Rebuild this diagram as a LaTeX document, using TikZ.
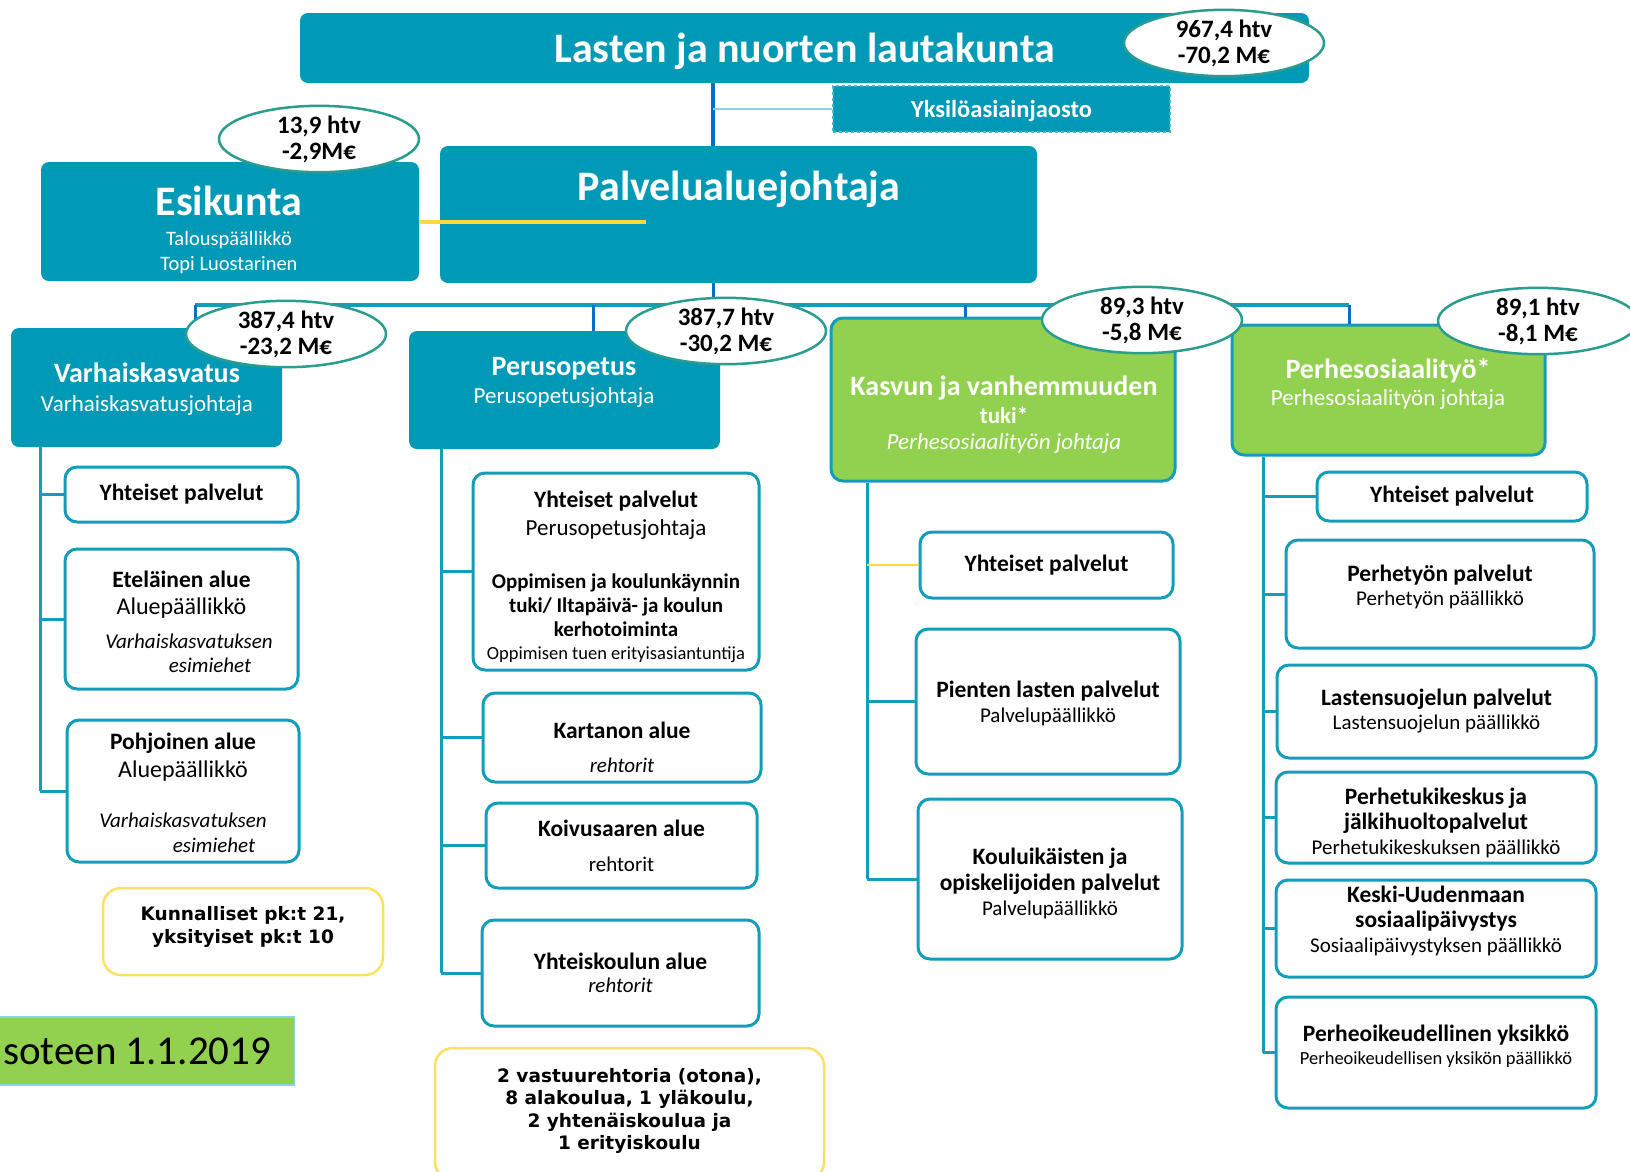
\documentclass[tikz,border=0pt]{standalone}
\usepackage{fontspec}
\setmainfont{Carlito}
\newfontfamily\notefont{DejaVu Sans}
\usepackage{tikz}
\usetikzlibrary{positioning, shapes.geometric, calc}

\definecolor{orgteal}{HTML}{0099B6}
\definecolor{orggreen}{HTML}{92D050}
\definecolor{linkteal}{HTML}{139DBB}
\definecolor{linkblue}{HTML}{0A6FC2}
\definecolor{ovalline}{HTML}{2A9D8F}
\definecolor{noteyellow}{HTML}{FFE066}
\definecolor{lineyellow}{HTML}{FFD93D}
\definecolor{paleblue}{HTML}{8AD3E3}

\def\fsz#1#2{\fontsize{#1}{#2}\selectfont}
% struts to nudge text inside a box: \up{depth}, \down{height}
\def\up#1{\rule[-#1pt]{0pt}{#1pt}}
\def\down#1{\rule{0pt}{#1pt}}

\begin{document}
\begin{tikzpicture}[x=1pt, y=-1pt,
    tealbox/.style={fill=orgteal, rounded corners=8pt, inner sep=0pt},
    greenbox/.style={fill=orggreen, draw=linkteal, line width=3pt, rounded corners=12pt, inner sep=0pt},
    subbox/.style={draw=linkteal, line width=3pt, fill=white, rounded corners=12pt, align=center, inner sep=0pt, font=\fsz{21}{24}},
    notebox/.style={draw=noteyellow, line width=2.5pt, fill=white, rounded corners=18pt, align=center, inner sep=0pt, font=\notefont\bfseries\fsz{18.5}{23}},
    costoval/.style={ellipse, draw=ovalline, line width=2.5pt, fill=white, minimum width=200pt, minimum height=66pt, inner sep=0pt, align=center, font=\bfseries\fsz{25}{26}},
    headtxt/.style={text=white, align=center, inner sep=0pt},
    spine/.style={draw=linkteal, line width=3pt},
    drop/.style={draw=linkblue, line width=3pt},
    yelline/.style={draw=lineyellow, line width=3pt}]

    \useasboundingbox (0,0) rectangle (1630,1171);
    \clip (0,0) rectangle (1630,1171);
    \fill[white] (0,0) rectangle (1630,1171);

    % board and division
    \node[tealbox, minimum width=1009pt, minimum height=70pt, text depth=0pt, text=white, font=\bfseries\fsz{42}{48}] (ltk) at (804.5,48) {Lasten ja nuorten lautakunta};
    \node[fill=orgteal, draw=paleblue!50!orgteal, line width=1.5pt, dashed, minimum width=337pt, minimum height=46pt, inner sep=0pt, text depth=0pt, text=white, font=\bfseries\fsz{24.5}{28}] (yks) at (1001.5,109) {Yksilöasiainjaosto};

    \node[tealbox, minimum width=597pt, minimum height=137pt] (palv) at (738.5,214.5) {};
    \node[headtxt, font=\bfseries\fsz{42}{48}] (palvT) at (739,189) {Palvelualuejohtaja};

    \node[tealbox, minimum width=378pt, minimum height=119pt] (esik) at (230,221.5) {};
    \node[headtxt, font=\fsz{20.5}{25}] (esikT) at (229,230) {{\bfseries\fsz{42}{48}Esikunta}\\[5pt]Talouspäällikkö\\Topi Luostarinen};

    % service areas
    \node[tealbox, minimum width=271pt, minimum height=119pt] (varh) at (146.5,387.5) {};
    \node[headtxt, font=\fsz{23}{29}] (varhT) at (147,389) {{\bfseries\fsz{28}{30}Varhaiskasvatus}\\Varhaiskasvatusjohtaja};

    \node[tealbox, minimum width=311pt, minimum height=118pt] (perus) at (564.5,390) {};
    \node[headtxt, font=\fsz{23}{28}] (perusT) at (564,382.5) {{\bfseries\fsz{28}{30}Perusopetus}\\Perusopetusjohtaja};

    \node[greenbox, minimum width=344pt, minimum height=163pt] (kasvu) at (1003,399.5) {};
    \node[headtxt, font=\fsz{23}{26}] (kasvuT) at (1004,415) {{\bfseries\fsz{28}{30}Kasvun ja vanhemmuuden}\\[2pt]{\bfseries tuki*}\\{\itshape Perhesosiaalityön johtaja}};

    \node[greenbox, minimum width=313pt, minimum height=130pt] (perhe) at (1388.5,390) {};
    \node[headtxt, font=\fsz{23}{27}] (perheT) at (1388,384) {{\bfseries\fsz{28}{30}Perhesosiaalityö*}\\Perhesosiaalityön johtaja};

    % varhaiskasvatus units
    \node[subbox, minimum width=233pt, minimum height=55pt] (v1) at (181.5,494.5) {{\bfseries\fsz{23.5}{26}Yhteiset palvelut}};
    \node[subbox, minimum width=233pt, minimum height=140pt] (v2) at (181.5,619) {{\bfseries\fsz{23.5}{26}\down{23}Eteläinen alue}\\[3pt]{\fsz{24}{26}Aluepäällikkö}\\[10pt]{\itshape\hspace*{15pt}Varhaiskasvatuksen}\\{\itshape\hspace*{57pt}esimiehet}};
    \node[subbox, minimum width=232pt, minimum height=142pt] (v3) at (183,791) {{\bfseries\fsz{23.5}{26}\down{21}Pohjoinen alue}\\[4pt]{\fsz{24}{26}Aluepäällikkö}\\[26pt]{\itshape Varhaiskasvatuksen}\\[1pt]{\itshape\hspace*{62pt}esimiehet}};
    \node[notebox, minimum width=280pt, minimum height=87pt] (kunn) at (243,931.5) {Kunnalliset pk:t 21,\\yksityiset pk:t 10\up{14}};

    % perusopetus units
    \node[subbox, minimum width=286pt, minimum height=197pt, font=\fsz{21}{23.5}] (p1) at (616,571.5) {{\bfseries\fsz{23.5}{26}\down{28}Yhteiset palvelut}\\[4.5pt]{\fsz{23}{26}Perusopetusjohtaja}\\[29.5pt]{\bfseries Oppimisen ja koulunkäynnin}\\{\bfseries tuki/ Iltapäivä- ja koulun}\\[0.5pt]{\bfseries kerhotoiminta}\\{\fsz{18.5}{20}Oppimisen tuen erityisasiantuntija}};
    \node[subbox, minimum width=278pt, minimum height=89pt] (p2) at (622,737.5) {{\bfseries\fsz{23.5}{26}\down{37}Kartanon alue}\\[10pt]{\itshape rehtorit}};
    \node[subbox, minimum width=271pt, minimum height=85pt] (p3) at (621.5,845.5) {{\bfseries\fsz{23.5}{26}Koivusaaren alue}\\[11pt]rehtorit};
    \node[subbox, minimum width=277pt, minimum height=106pt] (p4) at (620.5,973) {{\bfseries\fsz{23.5}{26}Yhteiskoulun alue}\\[-1pt]{\itshape rehtorit}};
    \node[notebox, minimum width=389pt, minimum height=132pt, font=\notefont\bfseries\fsz{18.5}{22.5}] (koulut) at (629.5,1114) {2 vastuurehtoria (otona),\\8 alakoulua, 1 yläkoulu,\\2 yhtenäiskoulua ja\\1 erityiskoulu\up{10}};

    % kasvun ja vanhemmuuden tuki units
    \node[subbox, minimum width=253pt, minimum height=66pt] (k1) at (1046.5,565) {{\bfseries\fsz{23.5}{26}Yhteiset palvelut}};
    \node[subbox, minimum width=264pt, minimum height=145pt, font=\fsz{21}{25}] (k2) at (1048,701.5) {{\bfseries\fsz{23.5}{26}\down{20}Pienten lasten palvelut}\\Palvelupäällikkö};
    \node[subbox, minimum width=264pt, minimum height=160pt, font=\fsz{21}{25}] (k3) at (1050,879) {{\bfseries\fsz{23.5}{26}\down{25}Kouluikäisten ja}\\[1pt]{\bfseries\fsz{23.5}{26}opiskelijoiden palvelut}\\Palvelupäällikkö};

    % perhesosiaalityo units
    \node[subbox, minimum width=270pt, minimum height=49pt] (h1) at (1452,496.5) {{\bfseries\fsz{23.5}{26}Yhteiset palvelut}};
    \node[subbox, minimum width=308pt, minimum height=108pt] (h2) at (1440,594) {{\bfseries\fsz{23.5}{26}Perhetyön palvelut}\\Perhetyön päällikkö\up{17}};
    \node[subbox, minimum width=319pt, minimum height=93pt] (h3) at (1436.5,711.5) {{\bfseries\fsz{23.5}{26}Lastensuojelun palvelut}\\Lastensuojelun päällikkö};
    \node[subbox, minimum width=320pt, minimum height=91pt, font=\fsz{21}{25}] (h4) at (1436,817.5) {{\bfseries\fsz{23.5}{26}\down{27}Perhetukikeskus ja}\\{\bfseries\fsz{23.5}{26}jälkihuoltopalvelut}\\Perhetukikeskuksen päällikkö};
    \node[subbox, minimum width=320pt, minimum height=97pt, font=\fsz{21}{25}] (h5) at (1436,928.5) {{\bfseries\fsz{23.5}{26}Keski-Uudenmaan}\\{\bfseries\fsz{23.5}{26}sosiaalipäivystys}\\Sosiaalipäivystyksen päällikkö\up{19}};
    \node[subbox, minimum width=320pt, minimum height=111pt, font=\fsz{18.5}{23}] (h6) at (1436,1052.5) {{\bfseries\fsz{23.5}{26}Perheoikeudellinen yksikkö}\\Perheoikeudellisen yksikön päällikkö\up{16}};

    \node[draw=paleblue, line width=1.5pt, fill=orggreen, anchor=east, inner xsep=23pt, inner ysep=0pt, minimum height=68pt, font=\fsz{41}{48}] (sote) at (295,1051) {soteen 1.1.2019};

    % trunk
    \coordinate (trunk) at (713,0);
    \draw[drop, line width=3.5pt] (trunk |- ltk.south) -- (trunk |- palv.north);
    \draw[paleblue, line width=2pt] (trunk |- yks.west) -- (yks.west);
    \draw[drop] (trunk |- palv.south) -- (713,305);

    % esikunta link
    \coordinate (yelend) at (646,222);
    \draw[yelline, line width=4pt] (esik.east |- yelend) -- (yelend);

    % bus and drops
    \coordinate (b1) at (195,305);
    \coordinate (b2) at (593,305);
    \coordinate (b3) at (965,305);
    \coordinate (b4) at (1349,305);
    \draw[spine, line width=3.5pt] (b1) -- (b4);
    \foreach \b/\n in {b1/varh, b2/perus, b3/kasvu, b4/perhe}
    {
        \draw[drop] (\b) -- (\b |- \n.north);
    }

    % spines
    \coordinate (s1) at (40,0);
    \coordinate (s2) at (441,0);
    \coordinate (s3) at (867,0);
    \coordinate (s4) at (1263,0);
    \foreach \s/\top/\last in {s1/varh/v3, s2/perus/p4, s3/kasvu/k3, s4/perhe/h6}
    {
        \draw[spine] (\s |- \top.south) -- (\s |- \last.west);
    }

    % branches
    \foreach \s/\c in {s1/v1, s1/v2, s1/v3, s2/p1, s2/p2, s2/p3, s2/p4,
                       s3/k2, s3/k3, s4/h1, s4/h2, s4/h3, s4/h4, s4/h5, s4/h6}
    {
        \draw[spine] (\s |- \c.west) -- (\c.west);
    }
    \draw[yelline, line width=2.5pt] (s3 |- k1.west) -- (k1.west);

    % htv / euro ovals
    \foreach \n/\x/\y/\t in {o0/1224/43/{967,4 htv\\-70,2 M€},
                             o1/319/139/{13,9 htv\\-2,9M€},
                             o2/286/334/{387,4 htv\\-23,2 M€},
                             o3/726/331/{387,7 htv\\-30,2 M€},
                             o4/1142/320/{89,3 htv\\-5,8 M€},
                             o5/1538/321/{89,1 htv\\-8,1 M€}}
    {
        \node[costoval] (\n) at (\x,\y) {\t};
    }
\end{tikzpicture}
\end{document}
